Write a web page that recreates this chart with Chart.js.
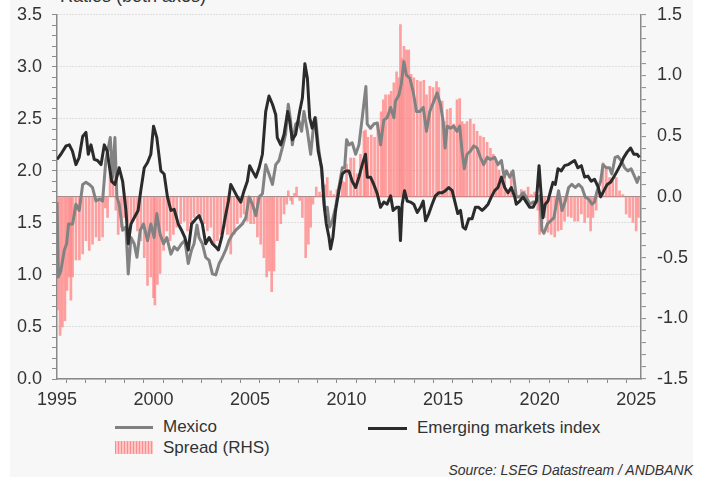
<!DOCTYPE html>
<html>
<head>
<meta charset="utf-8">
<script src="https://cdn.jsdelivr.net/npm/chart.js@4.4.1/dist/chart.umd.min.js"></script>
<style>
  html, body { margin: 0; padding: 0; background: #ffffff; }
  body { width: 705px; height: 477px; position: relative; overflow: hidden; font-family: "Liberation Sans", Arial, sans-serif; color: #333; }
  #bg { position: absolute; left: 10px; top: 0; width: 683px; height: 477px; background: #f7f7f7; }
  #c { position: absolute; left: 0; top: -7px; }
  .t { position: absolute; white-space: nowrap; line-height: 18px; }
  .ln { position: absolute; height: 3px; }
</style>
</head>
<body>
<div id="bg"></div>
<div class="t" style="left:60px; top:-13px; font-size:18px;">Ratios (both axes)</div>
<canvas id="c" width="705" height="417"></canvas>
<div class="ln" style="left:115px; top:426px; width:38px; background:#808080;"></div>
<div class="t" style="left:163px; top:418px; font-size:17px;">Mexico</div>
<div style="position:absolute; left:115px; top:441px; width:38px; height:13px; background:repeating-linear-gradient(90deg,#ff8c8c 0 1px,#ffc4c4 1px 3px);"></div>
<div class="t" style="left:163px; top:439px; font-size:17px;">Spread (RHS)</div>
<div class="ln" style="left:368px; top:427px; width:39px; background:#2b2b2b;"></div>
<div class="t" style="left:417px; top:419px; font-size:17px;">Emerging markets index</div>
<div class="t" style="right:12px; top:461px; font-size:14px; font-style:italic;">Source: LSEG Datastream / ANDBANK</div>
<script>
// ---- Data ----
const emYears = [1995.0,1995.2,1995.47,1995.64,1995.8,1995.98,1996.15,1996.33,1996.5,1996.62,1996.76,1996.93,1997.1,1997.28,1997.45,1997.6,1997.7,1997.83,1998.0,1998.22,1998.4,1998.57,1998.69,1998.83,1999.0,1999.2,1999.34,1999.52,1999.69,1999.86,2000.0,2000.17,2000.38,2000.55,2000.72,2000.9,2001.07,2001.28,2001.45,2001.62,2001.8,2001.97,2002.2,2002.36,2002.53,2002.7,2002.88,2003.05,2003.22,2003.36,2003.53,2003.71,2003.88,2004.0,2004.17,2004.34,2004.52,2004.69,2004.86,2004.98,2005.12,2005.3,2005.47,2005.64,2005.81,2005.98,2006.16,2006.33,2006.41,2006.59,2006.76,2006.95,2007.05,2007.19,2007.36,2007.57,2007.71,2007.84,2007.97,2008.09,2008.22,2008.36,2008.53,2008.71,2008.83,2008.95,2009.09,2009.17,2009.29,2009.43,2009.6,2009.78,2009.95,2010.12,2010.29,2010.47,2010.64,2010.81,2010.98,2011.07,2011.24,2011.41,2011.59,2011.76,2011.93,2012.1,2012.28,2012.41,2012.59,2012.71,2012.79,2012.88,2013.0,2013.14,2013.31,2013.48,2013.66,2013.83,2013.97,2014.09,2014.26,2014.43,2014.6,2014.78,2014.95,2015.12,2015.29,2015.47,2015.64,2015.76,2015.9,2016.03,2016.16,2016.33,2016.5,2016.67,2016.84,2017.02,2017.19,2017.33,2017.5,2017.67,2017.84,2018.02,2018.19,2018.36,2018.53,2018.71,2018.79,2018.97,2019.14,2019.31,2019.48,2019.66,2019.83,2019.97,2020.05,2020.17,2020.29,2020.43,2020.57,2020.69,2020.81,2020.95,2021.12,2021.29,2021.47,2021.64,2021.81,2021.98,2022.16,2022.33,2022.5,2022.67,2022.84,2023.02,2023.16,2023.33,2023.5,2023.67,2023.84,2024.02,2024.19,2024.36,2024.53,2024.71,2024.88,2025.05,2025.17];
const emValues = [2.11,2.16,2.24,2.25,2.19,2.06,2.13,2.33,2.37,2.16,2.25,2.11,2.10,2.06,2.25,2.19,2.06,1.90,1.87,2.03,1.90,1.62,1.30,1.49,1.55,1.62,1.81,2.03,2.08,2.16,2.43,2.32,2.00,1.97,1.75,1.62,1.63,1.49,1.43,1.36,1.24,1.49,1.54,1.57,1.49,1.30,1.36,1.30,1.27,1.24,1.36,1.55,1.71,1.87,1.81,1.75,1.70,1.81,1.90,2.05,2.00,1.94,2.03,2.16,2.57,2.72,2.64,2.54,2.32,2.25,2.35,2.57,2.48,2.30,2.35,2.57,2.70,3.03,2.89,2.51,2.41,2.51,2.19,2.03,1.68,1.49,1.36,1.25,1.36,1.62,1.81,1.97,2.00,2.00,1.90,1.84,1.94,2.06,2.16,1.94,1.94,1.87,1.78,1.65,1.70,1.68,1.76,1.62,1.65,1.65,1.33,1.68,1.81,1.71,1.70,1.68,1.60,1.65,1.71,1.52,1.59,1.68,1.76,1.79,1.79,1.81,1.84,1.81,1.68,1.59,1.62,1.46,1.44,1.54,1.54,1.65,1.65,1.62,1.65,1.68,1.75,1.81,1.84,1.94,1.84,1.79,1.84,1.75,1.68,1.71,1.75,1.70,1.65,1.65,1.71,2.05,1.84,1.55,1.68,1.71,1.81,1.89,1.87,2.02,2.00,2.05,2.06,2.08,2.10,2.03,2.05,1.94,1.95,1.90,1.92,1.85,1.75,1.81,1.87,1.89,1.94,2.00,2.06,2.13,2.18,2.22,2.16,2.16,2.13];

const mexicoYears = [1995.0,1995.07,1995.2,1995.38,1995.5,1995.6,1995.81,1995.98,1996.15,1996.33,1996.5,1996.67,1996.84,1997.02,1997.2,1997.36,1997.53,1997.76,1997.88,1998.0,1998.1,1998.22,1998.4,1998.57,1998.69,1998.83,1999.0,1999.14,1999.31,1999.48,1999.69,1999.86,2000.03,2000.17,2000.34,2000.52,2000.69,2000.9,2001.07,2001.24,2001.45,2001.62,2001.8,2001.97,2002.1,2002.25,2002.36,2002.53,2002.7,2002.88,2003.05,2003.22,2003.4,2003.57,2003.74,2003.91,2004.09,2004.26,2004.43,2004.6,2004.78,2004.95,2005.12,2005.3,2005.47,2005.64,2005.81,2005.98,2006.16,2006.33,2006.5,2006.71,2006.84,2006.98,2007.1,2007.19,2007.36,2007.53,2007.67,2007.79,2007.97,2008.14,2008.26,2008.4,2008.53,2008.71,2008.88,2009.0,2009.12,2009.26,2009.43,2009.6,2009.78,2009.9,2010.0,2010.12,2010.29,2010.47,2010.64,2010.81,2010.93,2011.0,2011.07,2011.24,2011.41,2011.59,2011.76,2011.93,2012.1,2012.28,2012.45,2012.53,2012.71,2012.83,2012.97,2013.1,2013.28,2013.45,2013.62,2013.79,2013.97,2014.14,2014.31,2014.52,2014.69,2014.86,2015.0,2015.1,2015.21,2015.38,2015.55,2015.72,2015.86,2015.98,2016.1,2016.24,2016.41,2016.59,2016.76,2016.93,2017.1,2017.28,2017.45,2017.67,2017.84,2018.02,2018.16,2018.28,2018.45,2018.62,2018.79,2018.97,2019.14,2019.31,2019.48,2019.66,2019.83,2020.0,2020.12,2020.22,2020.4,2020.57,2020.74,2020.86,2020.98,2021.16,2021.33,2021.5,2021.67,2021.84,2022.02,2022.19,2022.36,2022.53,2022.71,2022.84,2022.98,2023.16,2023.28,2023.45,2023.62,2023.74,2023.91,2024.05,2024.22,2024.4,2024.57,2024.74,2024.91,2025.05,2025.17];
const mexicoValues = [1.70,0.98,1.04,1.24,1.30,1.49,1.49,1.68,1.62,1.87,1.89,1.87,1.84,1.71,1.73,1.71,2.10,2.32,1.94,2.32,1.75,1.68,1.43,1.46,1.01,1.36,1.30,1.17,1.43,1.49,1.33,1.49,1.36,1.59,1.39,1.30,1.36,1.20,1.27,1.24,1.30,1.33,1.11,1.24,1.30,1.48,1.36,1.30,1.17,1.14,1.01,1.00,1.11,1.17,1.24,1.33,1.39,1.43,1.46,1.49,1.55,1.75,1.68,1.57,1.75,1.78,2.06,1.97,1.87,2.06,2.10,2.25,2.35,2.64,2.48,2.25,2.45,2.48,2.38,2.57,2.38,2.16,2.38,2.51,2.25,2.00,1.62,1.65,1.46,1.52,1.65,1.84,2.03,2.03,2.30,2.25,2.27,2.16,2.25,2.51,2.70,2.81,2.45,2.41,2.45,2.46,2.25,2.49,2.51,2.61,2.51,2.67,2.73,2.83,3.05,2.92,2.89,2.76,2.57,2.57,2.61,2.38,2.57,2.67,2.75,2.64,2.48,2.22,2.43,2.41,2.43,2.38,2.43,2.19,2.02,2.16,2.19,2.24,2.22,2.13,2.06,2.13,2.11,2.13,2.06,2.10,1.94,2.00,1.94,2.00,1.75,1.75,1.79,1.75,1.68,1.70,1.70,1.76,1.43,1.40,1.49,1.52,1.55,1.68,1.81,1.62,1.71,1.84,1.87,1.84,1.87,1.84,1.75,1.73,1.68,1.70,1.81,1.90,2.06,2.03,2.03,1.97,2.13,2.14,2.10,2.03,2.00,2.02,1.95,1.89,1.95];

const spreadYears = [1995.03,1995.16,1995.28,1995.41,1995.52,1995.64,1995.72,1995.81,1995.98,1996.16,1996.33,1996.5,1996.67,1996.84,1997.02,1997.19,1997.36,1997.5,1997.62,1997.75,1997.9,1998.05,1998.17,1998.34,1998.5,1998.65,1998.83,1999.0,1999.17,1999.34,1999.52,1999.69,1999.86,2000.0,2000.07,2000.2,2000.34,2000.52,2000.69,2000.86,2001.03,2001.2,2001.41,2001.59,2001.76,2001.93,2002.1,2002.28,2002.45,2002.62,2002.79,2002.97,2003.14,2003.31,2003.48,2003.66,2003.83,2004.0,2004.17,2004.34,2004.52,2004.69,2004.86,2005.03,2005.2,2005.38,2005.55,2005.72,2005.86,2006.0,2006.12,2006.24,2006.41,2006.59,2006.76,2006.9,2006.98,2007.1,2007.19,2007.3,2007.41,2007.57,2007.71,2007.88,2008.02,2008.14,2008.26,2008.43,2008.6,2008.74,2008.88,2009.0,2009.17,2009.34,2009.5,2009.6,2009.78,2009.9,2010.0,2010.21,2010.38,2010.55,2010.72,2010.9,2010.98,2011.1,2011.28,2011.45,2011.62,2011.79,2011.9,2012.02,2012.19,2012.31,2012.45,2012.59,2012.71,2012.79,2012.88,2012.97,2013.1,2013.22,2013.34,2013.48,2013.66,2013.83,2014.0,2014.14,2014.31,2014.48,2014.66,2014.78,2014.95,2015.07,2015.21,2015.38,2015.55,2015.72,2015.86,2015.98,2016.1,2016.24,2016.41,2016.59,2016.76,2016.93,2017.1,2017.28,2017.45,2017.6,2017.75,2017.9,2018.02,2018.19,2018.36,2018.53,2018.71,2018.88,2019.05,2019.22,2019.4,2019.57,2019.74,2019.91,2020.0,2020.12,2020.26,2020.43,2020.6,2020.78,2020.95,2021.12,2021.29,2021.47,2021.64,2021.81,2021.98,2022.16,2022.33,2022.5,2022.64,2022.76,2022.93,2023.1,2023.28,2023.45,2023.62,2023.79,2023.97,2024.14,2024.31,2024.48,2024.66,2024.83,2025.0,2025.12];
const spreadValues = [-0.93,-1.14,-1.07,-1.02,-0.77,-0.66,-0.85,-0.66,-0.52,-0.52,-0.47,-0.36,-0.44,-0.39,-0.33,-0.36,-0.33,-0.09,-0.17,0.20,0.24,-0.11,-0.31,-0.25,-0.17,-0.21,-0.20,-0.17,-0.28,-0.36,-0.50,-0.73,-0.66,-0.83,-0.89,-0.72,-0.63,-0.44,-0.28,-0.36,-0.31,-0.25,-0.22,-0.20,-0.28,-0.22,-0.17,-0.14,-0.17,-0.22,-0.28,-0.25,-0.39,-0.36,-0.31,-0.25,-0.31,-0.47,-0.31,-0.22,-0.17,-0.14,-0.20,-0.22,-0.22,-0.33,-0.39,-0.50,-0.66,-0.61,-0.78,-0.61,-0.36,-0.22,-0.14,-0.06,0.05,-0.03,-0.06,0.03,0.08,-0.03,-0.17,-0.50,-0.39,-0.25,-0.06,0.08,0.04,0.02,0.10,0.16,0.05,0.02,0.06,0.08,0.13,0.12,0.27,0.32,0.32,0.19,0.35,0.54,0.55,0.49,0.51,0.49,0.60,0.70,0.80,0.84,0.84,0.87,0.94,1.03,0.98,1.42,1.14,1.24,1.21,1.21,1.01,0.98,0.96,0.95,0.96,0.84,0.91,0.90,0.95,0.90,0.79,0.62,0.72,0.73,0.60,0.80,0.81,0.62,0.60,0.62,0.64,0.60,0.54,0.50,0.49,0.45,0.40,0.35,0.30,0.22,0.13,0.21,0.05,0.21,0.05,0.01,0.06,0.05,0.08,0.02,0.04,-0.11,-0.31,-0.22,-0.17,-0.29,-0.31,-0.33,-0.28,-0.27,-0.20,-0.16,-0.17,-0.20,-0.20,-0.14,-0.21,-0.17,-0.28,-0.17,-0.11,0.02,0.28,0.24,0.16,0.13,0.16,0.05,0.02,-0.14,-0.17,-0.21,-0.28,-0.17];

const leftTicksMajor = [0, 0.5, 1.0, 1.5, 2.0, 2.5, 3.0, 3.5];
const rightTicksMajor = [-1.5, -1.0, -0.5, 0.0, 0.5, 1.0, 1.5];
const xTickLabels = [1995, 2000, 2005, 2010, 2015, 2020, 2025];

// ---- Chart ----
const pts = (xs, ys) => xs.map((x, i) => ({ x: x, y: ys[i] }));
const FONT = "'Liberation Sans', Arial, sans-serif";
const near = (v, list) => list.some(m => Math.abs(v - m) < 1e-6);
const transparent = 'rgba(0,0,0,0)';

new Chart(document.getElementById('c'), {
  data: {
    datasets: [
      { type: 'line', label: 'Emerging markets index', data: pts(emYears, emValues), xAxisID: 'x', yAxisID: 'y',
        borderColor: '#2b2b2b', borderWidth: 3, pointRadius: 0, tension: 0, borderJoinStyle: 'round', order: 0 },
      { type: 'line', label: 'Mexico', data: pts(mexicoYears, mexicoValues), xAxisID: 'x', yAxisID: 'y',
        borderColor: '#828282', borderWidth: 3, pointRadius: 0, tension: 0, borderJoinStyle: 'round', order: 1 },
      { type: 'bar', label: 'Spread (RHS)', data: pts(spreadYears, spreadValues), xAxisID: 'x', yAxisID: 'y2',
        backgroundColor: 'rgba(255,130,130,0.75)', borderWidth: 0, barThickness: 2, order: 2 }
    ]
  },
  options: {
    responsive: false,
    animation: false,
    devicePixelRatio: 1,
    layout: { padding: { top: 4, left: 0, right: 0, bottom: 0 } },
    plugins: { legend: { display: false }, tooltip: { enabled: false } },
    scales: {
      x: {
        type: 'linear', position: 'bottom', min: 1995, max: 2025.25, offset: false,
        ticks: { stepSize: 1, autoSkip: false, includeBounds: false, maxRotation: 0, minRotation: 0, maxTicksLimit: 100,
          padding: 6, color: '#333', font: { family: FONT, size: 18 },
          callback: v => near(v, xTickLabels) ? String(Math.round(v)) : '' },
        grid: { drawOnChartArea: false, drawTicks: true, tickLength: 4, tickColor: '#8a8a8a', tickWidth: 1 },
        border: { display: true, color: '#8a8a8a', width: 1.5 },
        afterFit: s => { s.height = 31; }
      },
      y: {
        type: 'linear', position: 'left', min: 0, max: 3.5,
        ticks: { stepSize: 0.1, autoSkip: false, maxTicksLimit: 100, padding: 10, color: '#333', font: { family: FONT, size: 18 },
          callback: v => near(v, leftTicksMajor) ? v.toFixed(1) : '' },
        grid: { color: c => (c.tick && near(c.tick.value, leftTicksMajor)) ? '#c4c4c4' : transparent,
          lineWidth: 1, tickLength: 5, tickColor: '#8a8a8a', tickWidth: 1 },
        border: { display: true, color: '#8a8a8a', width: 1.5, dash: [1, 2] },
        afterFit: s => { s.width = 57; }
      },
      y2: {
        type: 'linear', position: 'right', min: -1.5, max: 1.5,
        ticks: { stepSize: 0.1, autoSkip: false, maxTicksLimit: 100, padding: 11, color: '#333', font: { family: FONT, size: 18 },
          callback: v => near(v, rightTicksMajor) ? (Math.abs(v) < 1e-6 ? '0.0' : v.toFixed(1)) : '' },
        grid: { color: c => (c.tick && Math.abs(c.tick.value) < 1e-6) ? '#a68c8c' : transparent,
          lineWidth: 1.2, tickLength: 5, tickColor: '#8a8a8a', tickWidth: 1 },
        border: { display: true, color: '#8a8a8a', width: 1.5 },
        afterFit: s => { s.width = 64; }
      }
    }
  }
});
</script>
</body>
</html>
